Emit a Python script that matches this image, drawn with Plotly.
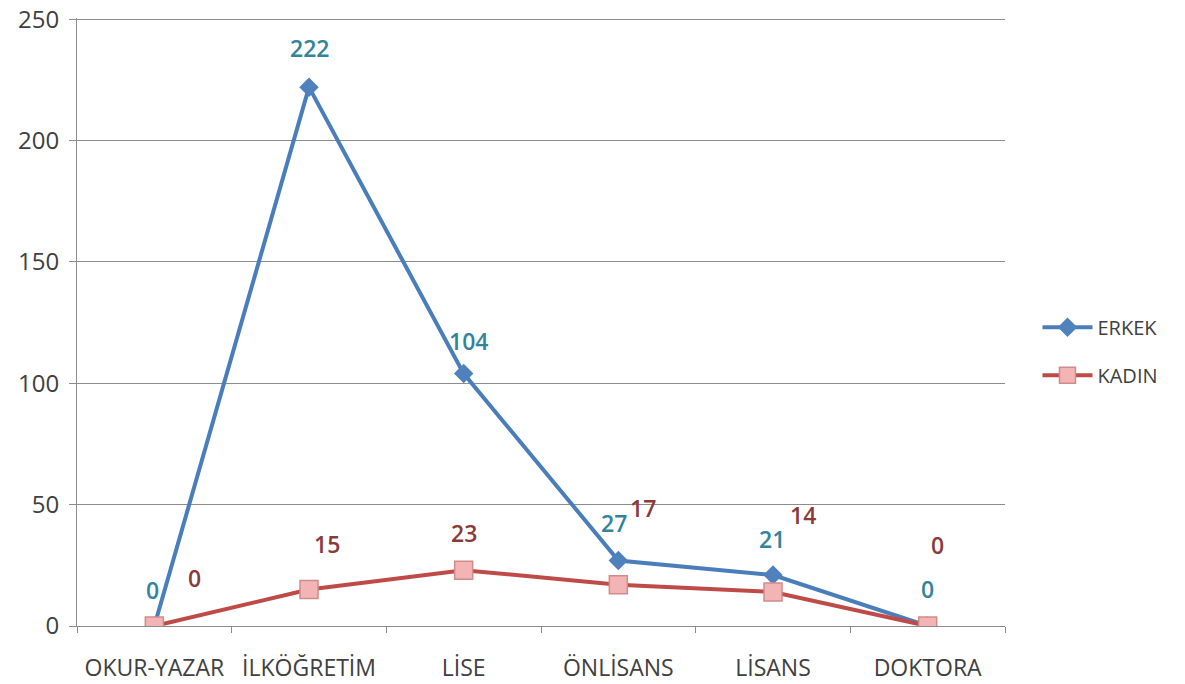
import plotly.graph_objects as go

categories = ["OKUR-YAZAR", "İLKÖĞRETİM", "LİSE", "ÖNLİSANS", "LİSANS", "DOKTORA"]
erkek = [0, 222, 104, 27, 21, 0]
kadin = [0, 15, 23, 17, 14, 0]
y_ticks = [0, 50, 100, 150, 200, 250]

# label offsets (pixels) as seen in the reference
erkek_dx = [-2, 0, 5, -4, -1, 0]
erkek_dy = [36, 39, 33, 37, 36, 37]
kadin_dx = [40, 18, 0, 25, 30, 10]
kadin_dy = [48, 46, 37, 77, 77, 81]

FONT = "Open Sans"
BLUE_LINE = "#4A7EBB"
BLUE_MARK = "#4F81BD"
RED_LINE = "#BE4B48"
RED_FILL = "#F2B4B4"
BLUE_TXT = "#31849B"
RED_TXT = "#8B3A3A"
TXT = "#404040"
GRID = "#8C8C8C"

fig = go.Figure()
fig.add_trace(go.Scatter(
    x=categories, y=erkek, name="ERKEK", mode="lines+markers", legendgroup="e",
    line=dict(color=BLUE_LINE, width=4),
    marker=dict(symbol="diamond", size=15, color=BLUE_MARK),
))
fig.add_trace(go.Scatter(
    x=categories, y=kadin, name="KADIN", mode="lines+markers", legendgroup="k",
    line=dict(color=RED_LINE, width=4),
    marker=dict(symbol="square", size=18, color=RED_FILL,
                line=dict(color="#D08C8A", width=1.5)),
))

for i, c in enumerate(categories):
    fig.add_annotation(x=c, y=erkek[i], text=str(erkek[i]), showarrow=False,
                       xshift=erkek_dx[i], yshift=erkek_dy[i],
                       font=dict(family=FONT, size=23, color=BLUE_TXT, weight=600))
    fig.add_annotation(x=c, y=kadin[i], text=str(kadin[i]), showarrow=False,
                       xshift=kadin_dx[i], yshift=kadin_dy[i],
                       font=dict(family=FONT, size=23, color=RED_TXT, weight=600))

fig.update_layout(
    width=1185, height=684,
    margin=dict(l=77, r=180, t=18, b=58),
    paper_bgcolor="white", plot_bgcolor="white",
    font=dict(family=FONT, size=20, color=TXT),
    legend=dict(x=1.035, y=0.452, xanchor="left", yanchor="middle",
                font=dict(family=FONT, size=20, color=TXT),
                tracegroupgap=19, itemwidth=50),
    showlegend=True,
)
fig.update_xaxes(
    type="category", range=[-0.5, len(categories) - 0.5],
    showline=True, linecolor=GRID, linewidth=1,
    ticks="outside", tickson="boundaries", ticklen=6, tickcolor=GRID,
    showgrid=False, automargin=False, ticklabelstandoff=21,
    ticklabeloverflow="allow",
    tickfont=dict(family=FONT, size=23, color=TXT),
)
fig.update_yaxes(
    range=[0, 250.5], tickvals=y_ticks,
    showline=True, linecolor=GRID, linewidth=1,
    showgrid=True, gridcolor=GRID, gridwidth=1,
    ticks="outside", ticklen=7, tickcolor=GRID,
    ticklabelstandoff=5, automargin=False,
    ticklabeloverflow="allow",
    tickfont=dict(family=FONT, size=24, color=TXT),
    zeroline=False,
)

fig.write_html("out.html",
               config={"displayModeBar": False},
               post_script="document.body.style.margin='0';document.body.style.overflow='hidden';")
